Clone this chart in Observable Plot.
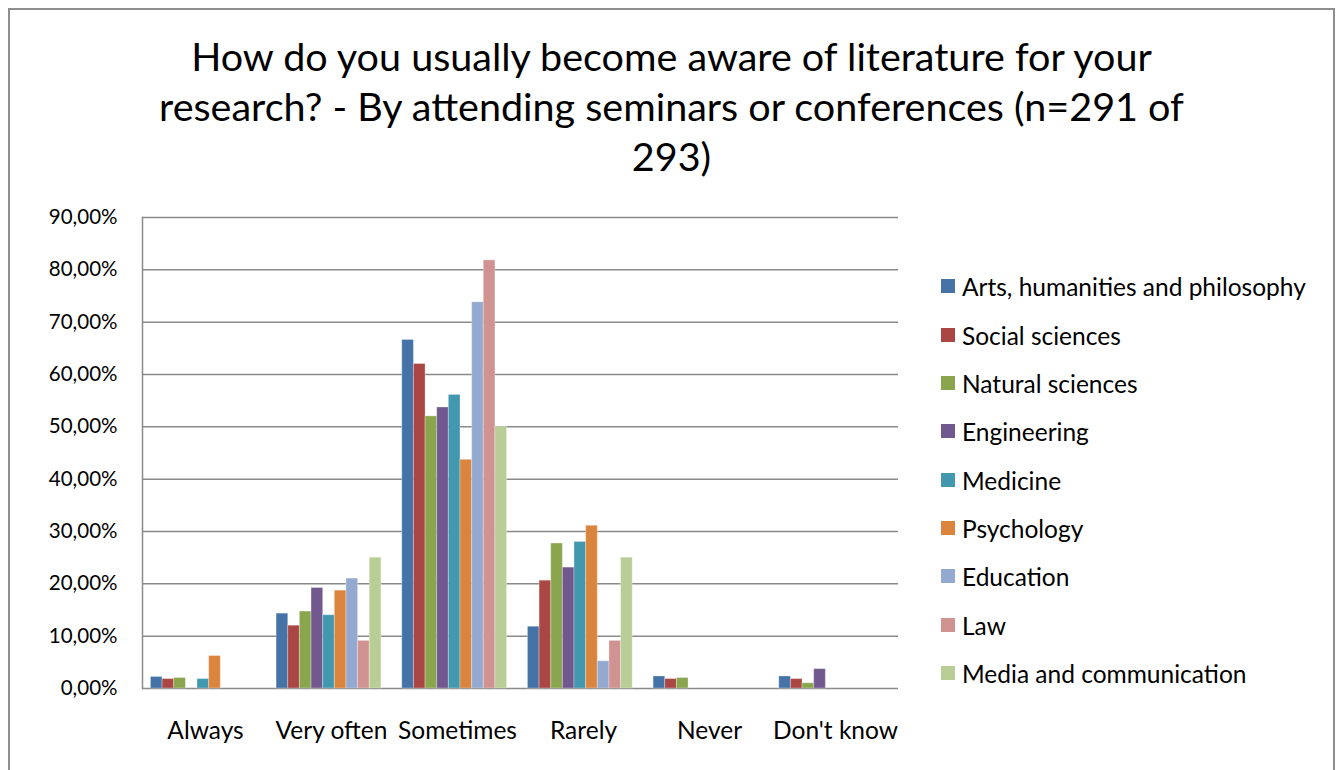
<!DOCTYPE html>
<html>
<head>
<meta charset="utf-8">
<script src="https://cdn.jsdelivr.net/npm/d3@7"></script>
<script src="https://cdn.jsdelivr.net/npm/@observablehq/plot@0.6"></script>
<style>
  body { margin: 0; background: #fff; font-family: Lato, "Open Sans", sans-serif; }
  #wrap { position: relative; width: 1343px; height: 770px; overflow: hidden; background: #fff; }
  #border { position: absolute; left: 8px; top: 8px; width: 1327px; height: 800px; border: 2px solid #8e8e8e; box-sizing: border-box; }
  #title { position: absolute; left: 0; top: 31px; width: 1343px; text-align: center; font-size: 39.5px; line-height: 50px; color: #000; }
  .layer { position: absolute; left: 0; top: 0; }
  .item { position: absolute; left: 941px; height: 26px; display: flex; align-items: center; font-size: 24.5px; color: #000; white-space: nowrap; }
  .sw { width: 14px; height: 14px; margin-right: 7px; flex: none; }
</style>
</head>
<body>
<div id="wrap">
  <div id="border"></div>
  <div id="title">How do you usually become aware of literature for your<br>research? - By attending seminars or conferences (n=291 of<br>293)</div>
  <div id="axes" class="layer"></div>
  <div id="bars" class="layer"></div>
  <div id="legend"></div>
</div>
<script>
const categories = ["Always", "Very often", "Sometimes", "Rarely", "Never", "Don't know"];
const series = ["Arts, humanities and philosophy", "Social sciences", "Natural sciences", "Engineering", "Medicine", "Psychology", "Education", "Law", "Media and communication"];
const colors = ["#4572A7", "#AA4643", "#89A54E", "#71588F", "#4198AF", "#DB843D", "#93A9CF", "#D19392", "#B9CD96"];

// percentages per category, one array per series
const arts        = [2.2, 14.3, 66.6, 11.8, 2.3, 2.3];
const social      = [1.8, 12.0, 62.0, 20.6, 1.8, 1.8];
const natural     = [2.0, 14.7, 52.0, 27.7, 2.0, 1.0];
const engineering = [0.0, 19.2, 53.7, 23.1, 0.0, 3.7];
const medicine    = [1.8, 14.0, 56.1, 28.0, 0.0, 0.0];
const psychology  = [6.2, 18.7, 43.7, 31.1, 0.0, 0.0];
const education   = [0.0, 21.0, 73.8, 5.2, 0.0, 0.0];
const law         = [0.0, 9.1, 81.8, 9.1, 0.0, 0.0];
const media       = [0.0, 25.0, 50.0, 25.0, 0.0, 0.0];

const yTicks = [0, 10, 20, 30, 40, 50, 60, 70, 80, 90];

const seriesValues = [arts, social, natural, engineering, medicine, psychology, education, law, media];
const table = [];
series.forEach((s, i) => {
  categories.forEach((c, j) => {
    table.push({series: s, category: c, value: seriesValues[i][j]});
  });
});

const fmt = d => d.toFixed(2).replace(".", ",") + "%";

const common = {
  width: 1343,
  height: 770,
  marginLeft: 142,
  marginRight: 445,
  marginTop: 217,
  marginBottom: 82,
  style: {fontFamily: "Lato, 'Open Sans', sans-serif", color: "#000", background: "transparent"}
};

// background layer: gridlines, axis lines, tick labels
const axes = Plot.plot({
  ...common,
  x: {type: "band", domain: categories, padding: 0, round: false, label: null},
  y: {domain: [0, 90], label: null},
  marks: [
    Plot.gridY(yTicks.filter(d => d > 0), {stroke: "#8a8a8a", strokeOpacity: 1, strokeWidth: 1.5}),
    Plot.ruleY([0], {stroke: "#8a8a8a", strokeWidth: 1.5}),
    Plot.frame({anchor: "left", stroke: "#8a8a8a", strokeWidth: 1.5}),
    Plot.axisY(yTicks, {tickFormat: fmt, tickSize: 0, tickPadding: 25, fontSize: 20.5, label: null}),
    Plot.axisX({tickSize: 0, tickPadding: 33, fontSize: 24.5, label: null})
  ]
});
document.getElementById("axes").appendChild(axes);

// bar layer: grouped bars by category facet
const bars = Plot.plot({
  ...common,
  marginLeft: 140,
  marginRight: 449,
  fx: {domain: categories, paddingInner: 0.166, paddingOuter: 0.083, round: false, axis: null, label: null},
  x: {domain: series, padding: 0, round: false, axis: null},
  y: {domain: [0, 90], axis: null},
  color: {domain: series, range: colors},
  marks: [
    Plot.barY(table, {fx: "category", x: "series", y: "value", fill: "series", stroke: "#ffffff", strokeOpacity: 0.3, strokeWidth: 1})
  ]
});
document.getElementById("bars").appendChild(bars);

const legend = d3.select("#legend");
const centers = [287, 336, 384, 432, 481, 529, 577, 626, 674];
series.forEach((s, i) => {
  const it = legend.append("div").attr("class", "item").style("top", (centers[i] - 14) + "px");
  it.append("div").attr("class", "sw").style("background", colors[i]);
  it.append("span").text(s);
});
</script>
</body>
</html>
